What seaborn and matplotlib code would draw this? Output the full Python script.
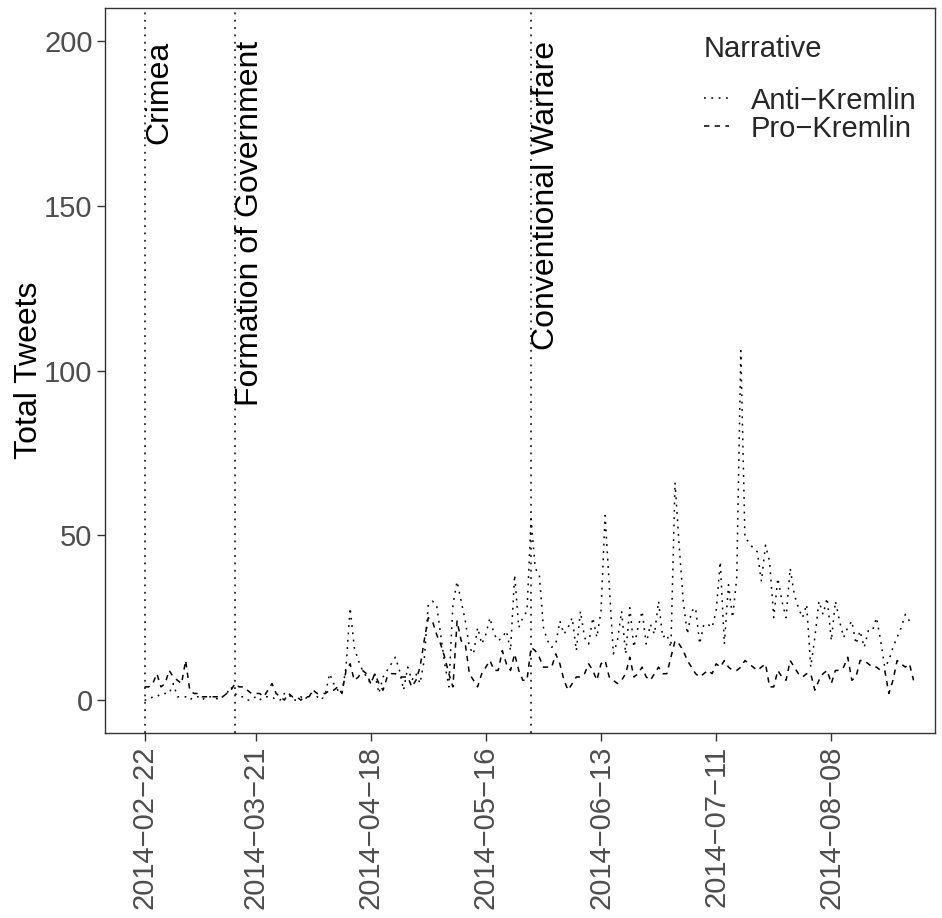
import pandas as pd
import seaborn as sns
import numpy as np
import matplotlib.pyplot as plt

# daily tweet counts, 2014-02-22 .. 2014-08-28
start_date = "2014-02-22"
anti_kremlin = [
    0, 0, 1, 1, 2, 2, 2, 5, 1, 1,
    1, 0, 1, 1, 0, 1, 1, 1, 0, 1,
    2, 4, 2, 1, 1, 0, 0, 1, 0, 1,
    1, 1, 0, 0, 2, 2, 0, 0, 1, 0,
    2, 2, 1, 0, 2, 8, 5, 3, 2, 10,
    28, 16, 12, 9, 7, 5, 8, 2, 7, 9,
    11, 13, 9, 3, 10, 6, 8, 5, 12, 29,
    30, 29, 20, 11, 4, 29, 36, 30, 24, 16,
    14, 22, 17, 20, 25, 20, 18, 19, 21, 15,
    38, 22, 25, 27, 55, 40, 38, 22, 18, 16,
    17, 24, 20, 22, 25, 15, 27, 19, 17, 25,
    19, 27, 56, 35, 14, 18, 27, 14, 28, 16,
    22, 27, 17, 23, 20, 30, 19, 20, 16, 66,
    47, 30, 20, 27, 28, 17, 23, 23, 22, 27,
    42, 17, 35, 25, 37, 106, 49, 48, 46, 45,
    36, 47, 42, 25, 37, 30, 25, 40, 32, 28,
    25, 29, 10, 19, 30, 26, 31, 18, 30, 24,
    19, 22, 24, 17, 21, 16, 21, 21, 25, 18,
    10, 12, 16, 19, 22, 26, 24, 25,
]
pro_kremlin = [
    4, 4, 5, 8, 4, 5, 9, 7, 6, 5,
    12, 3, 2, 2, 1, 1, 1, 1, 1, 1,
    2, 3, 5, 4, 4, 3, 2, 2, 2, 1,
    3, 5, 2, 1, 0, 2, 1, 1, 0, 1,
    1, 3, 2, 2, 2, 3, 3, 4, 2, 9,
    11, 6, 7, 9, 8, 5, 8, 5, 3, 7,
    8, 8, 7, 7, 7, 4, 6, 10, 18, 25,
    24, 20, 17, 13, 8, 4, 24, 18, 17, 8,
    6, 4, 8, 10, 12, 9, 9, 15, 11, 9,
    14, 9, 6, 6, 16, 15, 13, 10, 10, 10,
    14, 11, 6, 3, 5, 7, 7, 8, 11, 9,
    6, 11, 12, 7, 6, 5, 6, 8, 13, 7,
    8, 10, 7, 6, 8, 10, 8, 8, 13, 18,
    17, 15, 12, 10, 8, 7, 8, 9, 8, 11,
    10, 12, 10, 9, 9, 10, 12, 11, 10, 9,
    10, 11, 4, 4, 9, 7, 6, 12, 10, 8,
    7, 8, 8, 3, 6, 8, 9, 5, 9, 9,
    10, 13, 6, 7, 12, 12, 11, 10, 10, 9,
    9, 2, 6, 12, 11, 10, 11, 6,
]
narratives = ["Anti\u2212Kremlin", "Pro\u2212Kremlin"]
event_dates = ["2014-02-22", "2014-03-16", "2014-05-27"]
event_labels = ["Crimea", "Formation of Government", "Conventional Warfare"]
tick_dates = ["2014-02-22", "2014-03-21", "2014-04-18", "2014-05-16",
              "2014-06-13", "2014-07-11", "2014-08-08"]

dates = pd.date_range(start_date, periods=len(anti_kremlin), freq="D")
df = pd.concat([
    pd.DataFrame({"date": dates, "tweets": anti_kremlin, "Narrative": narratives[0]}),
    pd.DataFrame({"date": dates, "tweets": pro_kremlin, "Narrative": narratives[1]}),
])

sns.set_style("white")
plt.rcParams["font.family"] = ["Liberation Sans", "DejaVu Sans"]

fig = plt.figure(figsize=(9.42, 9.18), dpi=100)
ax = fig.add_axes([0.1115, 0.2015, 0.881, 0.7898])

lw = 1.1
sns.lineplot(data=df, x="date", y="tweets", style="Narrative", color="black",
             dashes={narratives[0]: (1.2, 3.6), narratives[1]: (3.5, 3.5)},
             linewidth=lw, ax=ax)

# event markers
for d, lab in zip(event_dates, event_labels):
    ax.axvline(pd.Timestamp(d), color="black", linewidth=lw, linestyle=(0, (1.2, 3.6)))
    ax.text(pd.Timestamp(d), 200, lab, rotation=90, rotation_mode="anchor",
            ha="right", va="top", fontsize=23, color="black")

x0 = pd.Timestamp(start_date)
ax.set_xlim(x0 - pd.Timedelta(days=9.6), x0 + pd.Timedelta(days=192.2))
ax.set_ylim(-10, 210)
ax.set_yticks([0, 50, 100, 150, 200])
ax.set_xticks([pd.Timestamp(t) for t in tick_dates])
ax.set_xticklabels([t.replace("-", "\u2212") for t in tick_dates], rotation=90)

ax.set_xlabel("")
ax.set_ylabel("Total Tweets", fontsize=23, color="black", labelpad=0)
ax.tick_params(axis="both", labelsize=21, labelcolor="#4D4D4D", color="#333333",
               length=6, width=1, direction="out", pad=3, bottom=True, left=True)
for s in ax.spines.values():
    s.set_visible(True)
    s.set_color("#333333")
    s.set_linewidth(1.0)

handles, labels = ax.get_legend_handles_labels()
leg = ax.legend(handles, labels, title="Narrative", loc="upper left",
                bbox_to_anchor=(0.690, 0.999), frameon=False, fontsize=21,
                title_fontsize=21, handlelength=0.85, handletextpad=0.75,
                labelspacing=0.0, alignment="left")
leg._legend_box.sep = 17

fig.savefig("out.png", dpi=100)
